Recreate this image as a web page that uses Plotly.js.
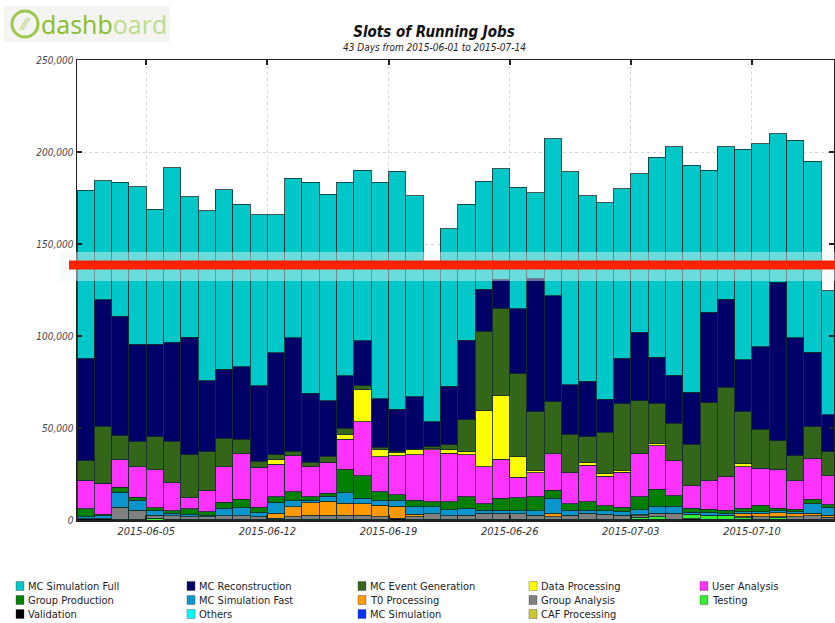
<!DOCTYPE html>
<html><head><meta charset="utf-8">
<script src="https://cdn.plot.ly/plotly-3.0.1.min.js"></script>
<style>html,body{margin:0;padding:0;background:#fff}#chart{width:835px;height:623px}</style>
</head><body><div id="chart"></div>
<script>
// ---- data (values in thousands of slots) ----
const days = ['2015-06-01','2015-06-02','2015-06-03','2015-06-04','2015-06-05','2015-06-06','2015-06-07','2015-06-08','2015-06-09','2015-06-10',
'2015-06-11','2015-06-12','2015-06-13','2015-06-14','2015-06-15','2015-06-16','2015-06-17','2015-06-18','2015-06-19','2015-06-20',
'2015-06-21','2015-06-22','2015-06-23','2015-06-24','2015-06-25','2015-06-26','2015-06-27','2015-06-28','2015-06-29','2015-06-30',
'2015-07-01','2015-07-02','2015-07-03','2015-07-04','2015-07-05','2015-07-06','2015-07-07','2015-07-08','2015-07-09','2015-07-10',
'2015-07-11','2015-07-12','2015-07-13','2015-07-14'];

const mcSimulationFull = [91.4,64.7,72.6,85.6,73.3,94.9,76.2,92.4,97.4,88.4,92.7,75.0,86.6,114.7,112.4,105.2,92.9,117.7,129.4,109.4,85.6,85.4,73.9,58.7,60.1,66.0,46.5,85.3,115.8,100.9,106.7,92.2,86.0,108.7,124.1,123.5,77.3,82.8,114.6,110.3,80.8,107.4,103.7,67.5];
const mcReconstruction = [55.8,68.8,65.1,52.6,50.2,53.7,64.0,38.6,37.5,39.3,41.1,55.6,61.6,37.5,30.0,28.5,24.3,26.3,22.6,28.4,13.5,32.0,43.1,22.8,15.7,35.4,72.5,57.6,27.1,30.2,18.0,24.9,37.2,25.0,26.3,28.1,49.1,48.0,28.1,44.9,86.1,64.3,40.4,20.0];
const mcEventGeneration = [10.4,31.0,12.8,13.9,18.1,22.6,23.2,20.8,15.4,8.1,3.4,2.4,2.5,2.0,3.4,3.3,2.0,1.1,0.9,0.5,0.9,2.7,17.2,43.3,47.5,44.8,31.7,28.4,20.8,13.9,22.3,35.9,29.0,21.7,20.3,22.8,42.4,48.2,28.1,21.2,15.6,13.6,17.2,13.2];
const dataProcessing = [0,0,0,0,0,0,0,0,0,0,0,2.7,0,0,0,2.5,17.6,4.0,1.8,2.7,0.9,1.8,1.8,30.4,34.4,11.4,1.45,0,0,1.45,1.45,1.3,0,1.3,0,0,0,0,1.8,0,0,0,0,0];
const userAnalysis = [15.7,16.7,15.2,16.7,20.5,15.2,6.0,11.8,19.4,24.7,21.7,17.6,19.6,16.7,16.9,16.3,29.3,19.0,21.2,24.5,28.1,26.3,23.0,20.3,21.4,11.2,13.0,19.6,17.0,19.9,16.1,19.0,23.2,23.6,19.0,12.1,15.6,18.5,22.7,19.9,21.2,15.4,22.3,15.8];
const groupProduction = [4.2,1.0,2.7,1.8,1.8,1.45,3.1,1.8,3.3,4.5,2.9,3.1,4.9,1.8,1.45,12.9,12.3,4.9,3.1,3.6,2.7,4.5,6.3,3.3,6.35,6.9,7.6,4.5,3.3,4.5,2.9,2.35,7.2,9.2,5.6,2.2,1.8,1.8,1.8,3.6,1.45,1.3,2.5,1.3];
const mcSimulationFast = [1.0,1.6,8.15,5.1,2.2,1.26,1.27,0.9,4.17,4.5,2.2,6.0,3.3,1.45,2.7,5.8,3.1,2.4,2.9,4.0,4.0,3.3,3.6,1.8,1.8,1.8,2.35,8.2,2.7,1.8,1.8,1.8,2.7,4.0,4.0,1.1,1.3,0.9,0.9,0.9,0.9,0.9,5.1,4.2];
const t0Processing = [0,0,0,0,0,0,0,0,0,0,0,2.7,5.4,6.7,7.6,6.3,6.0,6.3,6.7,1.45,0,0,0,0,0,0,0,1.8,0,0,0,0,0.5,0,0,0,0,0,1.8,1.8,2.2,1.8,1.45,1.3];
const groupAnalysis = [0,0,6.4,4.9,1.8,1.96,1.4,1.4,1.8,1.8,1.4,0.5,1.4,2.4,2.4,2.4,2.4,1.4,0,1.4,2.9,1.8,2.4,3.3,3.3,2.9,2.4,1.4,2.4,3.3,2.7,2.4,0.8,1.8,3.3,0,0,0,0.7,1.4,0.7,1.4,1.8,1.0];
const testing = [0,0,0,0,0.9,0,0,0,0,0,0,0,0,0,0,0,0,0,0,0,0,0,0,0,0,0,0,0,0,0,0,0,1.0,1.4,0,2.4,2.4,2.4,0.7,0,0.7,0,0,0];
const validation = [0.8,0.6,0.5,0.5,0,0.4,0.4,0.4,0.4,0.4,0.4,0.4,0.4,0.3,0.3,0.3,0.3,0.4,0.9,0.4,0.4,0.4,0.3,0.3,0.3,0.4,0.3,0.4,0.3,0.3,0.4,0.3,0.5,0.4,0.3,0.7,0.3,0.3,0.4,0.4,0.4,0.4,0.4,0.4];
const others = [0,0,0,0,0,0,0,0,0,0,0,0,0,0,0,0,0,0,0,0,0,0,0,0,0,0,0,0,0,0,0,0,0,0,0,0,0,0,0,0,0,0,0,0];
const mcSimulation = [0,0,0,0,0,0,0,0,0,0,0,0,0,0,0,0,0,0,0,0,0,0,0,0,0,0,0,0,0,0,0,0,0,0,0,0,0,0,0,0,0,0,0,0];
const cafProcessing = [0,0,0,0,0,0,0,0,0,0,0,0,0,0,0,0,0,0,0,0,0,0,0,0,0,0,0,0,0,0,0,0,0,0,0,0,0,0,0,0,0,0,0,0];

// legend order (row-major) and colours
const legendNames = ['MC Simulation Full','MC Reconstruction','MC Event Generation','Data Processing','User Analysis',
  'Group Production','MC Simulation Fast','T0 Processing','Group Analysis','Testing',
  'Validation','Others','MC Simulation','CAF Processing'];
const legendColors = ['#00c8c8','#000066','#336618','#ffff00','#ff33ff',
  '#008000','#0a96cc','#ff9900','#808080','#33ee33',
  '#000000','#00ffff','#0033ff','#c8c832'];
const seriesValues = {
  'MC Simulation Full': mcSimulationFull, 'MC Reconstruction': mcReconstruction, 'MC Event Generation': mcEventGeneration,
  'Data Processing': dataProcessing, 'User Analysis': userAnalysis, 'Group Production': groupProduction,
  'MC Simulation Fast': mcSimulationFast, 'T0 Processing': t0Processing, 'Group Analysis': groupAnalysis,
  'Testing': testing, 'Validation': validation, 'Others': others, 'MC Simulation': mcSimulation, 'CAF Processing': cafProcessing
};
// stacking order bottom -> top
const stackOrder = ['CAF Processing','MC Simulation','Others','Validation','Testing','Group Analysis','T0 Processing',
  'MC Simulation Fast','Group Production','User Analysis','Data Processing','MC Event Generation','MC Reconstruction','MC Simulation Full'];

const DAY = 86400000;
const traces = stackOrder.map(name => ({
  type: 'bar', name: name, x: days,
  y: seriesValues[name].map(v => v * 1000),
  width: DAY, offset: 0,
  marker: {color: legendColors[legendNames.indexOf(name)], line: {color: 'rgba(20,45,45,0.8)', width: 1}},
  showlegend: false, hoverinfo: 'x+y+name'
}));

// ---- layout helpers (pixel -> paper) ----
const L = 77, R = 834, T = 60, B = 520;
const px = p => (p - L) / (R - L);
const py = p => (B - p) / (B - T);
const F = 'DejaVu Sans Condensed, Liberation Sans Narrow, DejaVu Sans, sans-serif';

const shapes = [];
const annotations = [];

// halo + red horizontal line
shapes.push({type:'rect', layer:'above', xref:'paper', yref:'y', x0: px(60), x1: 1.02, y0: 129900, y1: 145600,
  fillcolor:'rgba(235,245,245,0.45)', line:{width:0}});
shapes.push({type:'rect', layer:'above', xref:'paper', yref:'y', x0: px(69), x1: 1.02, y0: 136200, y1: 141000,
  fillcolor:'#ff2200', line:{width:0}});

// logo
shapes.push({type:'rect', layer:'below', xref:'paper', yref:'paper', x0: px(4), x1: px(170), y0: py(6), y1: py(42),
  fillcolor:'#f4f5f2', line:{width:0}});
shapes.push({type:'circle', layer:'above', xref:'paper', yref:'paper', x0: px(12), x1: px(38), y0: py(11), y1: py(37),
  fillcolor:'rgba(0,0,0,0)', line:{color:'#9bc94a', width:3}});
annotations.push({xref:'paper', yref:'paper', x: px(17), y: py(24), xanchor:'left', yanchor:'middle', showarrow:false,
  text:'<span style="color:#b4d67a">⁄⁄</span>', font:{family:'DejaVu Sans', size:16}});
annotations.push({xref:'paper', yref:'paper', x: px(39), y: py(24), xanchor:'left', yanchor:'middle', showarrow:false,
  text:'<span style="color:#86bd2f">dashb</span><span style="color:#bcdc8c">oard</span>',
  font:{family:'Open Sans, DejaVu Sans', size:25}});

// subtitle
annotations.push({xref:'paper', yref:'paper', x: px(434), y: py(48), xanchor:'center', yanchor:'middle', showarrow:false,
  text:'43 Days from 2015-06-01 to 2015-07-14', font:{family:F, size:10, style:'italic', color:'#222'}});

// manual legend grid (5 columns)
legendNames.forEach((name, i) => {
  const col = i % 5, row = Math.floor(i / 5);
  const sx = 16 + 171 * col, sy = 586 + 14 * row;
  shapes.push({type:'rect', xref:'paper', yref:'paper', x0: px(sx), x1: px(sx + 8), y0: py(sy + 4.5), y1: py(sy - 4.5),
    fillcolor: legendColors[i], line:{color:'rgba(60,60,60,0.6)', width:0.6}});
  annotations.push({xref:'paper', yref:'paper', x: px(sx + 10), y: py(sy), xanchor:'left', yanchor:'middle', showarrow:false,
    text: name, font:{family:F, size:11, color:'#222'}});
});

const layout = {
  width: 835, height: 623,
  margin: {l: L, r: 835 - R, t: T, b: 623 - B, pad: 0},
  paper_bgcolor: '#fff', plot_bgcolor: '#fff',
  barmode: 'stack', bargap: 0,
  title: {text: 'Slots of Running Jobs', x: 434 / 835, xref: 'container', xanchor: 'center',
          y: 1 - 32 / 623, yref: 'container', yanchor: 'middle',
          font: {family: F, size: 15, style: 'italic', weight: 'bold', color: '#111'}},
  xaxis: {type: 'date', range: ['2015-06-01', '2015-07-14 17:45'], tick0: '2015-06-05', dtick: 7 * DAY,
    tickformat: '%Y-%m-%d', ticks: 'inside', ticklen: 5, tickwidth: 2, tickcolor: '#222',
    showline: true, linecolor: '#222', linewidth: 1.5, mirror: 'ticks',
    showgrid: true, gridcolor: '#d6d6d6', griddash: 'dot', gridwidth: 1, zeroline: false,
    tickfont: {family: F, size: 11, style: 'italic', color: '#333'}, fixedrange: true},
  yaxis: {range: [0, 250000], dtick: 50000, tickformat: ',d', ticks: 'inside', ticklen: 5, tickwidth: 2, tickcolor: '#222',
    showline: true, linecolor: '#222', linewidth: 1.5, mirror: 'ticks',
    showgrid: true, gridcolor: '#d6d6d6', griddash: 'dot', gridwidth: 1, zeroline: false,
    tickfont: {family: F, size: 10, style: 'italic', color: '#444'}, fixedrange: true},
  shapes: shapes, annotations: annotations, showlegend: false
};

Plotly.newPlot('chart', traces, layout, {displayModeBar: false, staticPlot: true});
</script>
</body></html>
